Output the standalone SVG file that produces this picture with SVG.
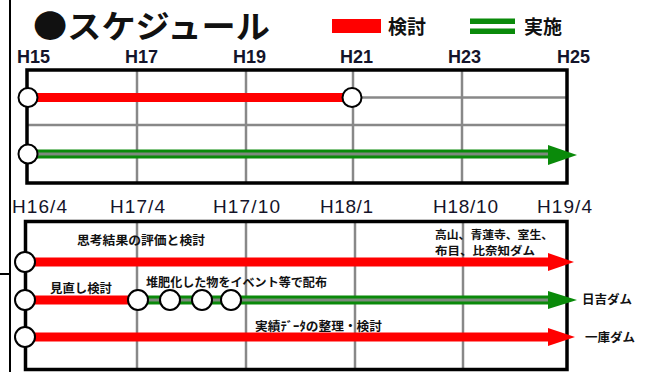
<svg xmlns="http://www.w3.org/2000/svg" width="646" height="372" viewBox="0 0 646 372">
<style>
.jp{font-family:"Noto Sans CJK JP","Noto Sans",sans-serif;font-weight:bold;fill:#111}
.lbl{font-size:12px}
.ax{font-family:"Liberation Sans",Arial,sans-serif;fill:#14142a}
.axt{font-size:18px;font-weight:bold}
.axb{font-size:19px}
.grid{stroke:#888;stroke-width:2.5;fill:none}
.box{stroke:#000;stroke-width:3.5;fill:none}
.red{stroke:#ff0000;stroke-width:9;fill:none}
.grn{stroke:#0a8a0a;stroke-width:9;fill:none}
.grnc{stroke:#7d8a7d;stroke-width:3;fill:none}
.node{fill:#fff;stroke:#000;stroke-width:2}
.rh{fill:#ff0000}
.gh{fill:#0a8a0a}
</style>
<rect width="646" height="372" fill="#fff"/>
<g id="frame">
<line x1="10" y1="0" x2="10" y2="372" stroke="#000" stroke-width="2"/>
<line x1="0" y1="274" x2="10" y2="274" stroke="#000" stroke-width="2"/>
</g>
<g id="title">
<text class="jp" x="33" y="38" font-size="32" textLength="237" lengthAdjust="spacingAndGlyphs">●スケジュール</text>
</g>
<g id="legend">
<rect x="332" y="19" width="49" height="14" fill="#ff0000"/>
<text class="jp" x="388" y="34" font-size="19">検討</text>
<rect x="470" y="18.5" width="45" height="5.5" fill="#0a8a0a"/>
<rect x="470" y="28.5" width="45" height="5.5" fill="#0a8a0a"/>
<text class="jp" x="524" y="34" font-size="19">実施</text>
</g>
<g id="top-axis" class="ax axt">
<text x="17" y="63">H15</text>
<text x="125" y="63">H17</text>
<text x="233" y="63">H19</text>
<text x="340" y="63">H21</text>
<text x="448" y="63">H23</text>
<text x="557" y="63">H25</text>
</g>
<g id="top-chart">
<line class="grid" x1="137" y1="70" x2="137" y2="183"/>
<line class="grid" x1="246" y1="70" x2="246" y2="183"/>
<line class="grid" x1="353" y1="70" x2="353" y2="183"/>
<line class="grid" x1="462" y1="70" x2="462" y2="183"/>
<line class="grid" x1="27" y1="97.5" x2="567" y2="97.5"/>
<line class="grid" x1="27" y1="125" x2="567" y2="125"/>
<rect class="box" x="27" y="70" width="540" height="113"/>
</g>
<g id="bottom-axis" class="ax axb">
<text x="12" y="213" textLength="55" lengthAdjust="spacing">H16/4</text>
<text x="110" y="213" textLength="55" lengthAdjust="spacing">H17/4</text>
<text x="213" y="213" textLength="67" lengthAdjust="spacing">H17/10</text>
<text x="320" y="213" textLength="53" lengthAdjust="spacing">H18/1</text>
<text x="433" y="213" textLength="65" lengthAdjust="spacing">H18/10</text>
<text x="537" y="213" textLength="55" lengthAdjust="spacing">H19/4</text>
</g>
<g id="bottom-chart">
<line class="grid" x1="137" y1="221" x2="137" y2="370"/>
<line class="grid" x1="246" y1="221" x2="246" y2="370"/>
<line class="grid" x1="355" y1="221" x2="355" y2="370"/>
<line class="grid" x1="463" y1="221" x2="463" y2="370"/>
<rect class="box" x="25.5" y="221.5" width="541.5" height="148"/>
</g>
<g id="connectors">
<line class="red" x1="28" y1="97.5" x2="352" y2="97.5"/>
<line class="grn" x1="28" y1="154" x2="550" y2="154"/>
<line class="grnc" x1="28" y1="154" x2="550" y2="154"/>
<polygon class="gh" points="548,145 577,155 548,165"/>
<line class="red" x1="25" y1="262" x2="550" y2="262"/>
<polygon class="rh" points="548,253 574,262 548,271"/>
<line class="red" x1="25" y1="300" x2="137" y2="300"/>
<line class="grn" x1="137" y1="300" x2="550" y2="300" stroke-width="10"/>
<line class="grnc" x1="137" y1="300" x2="550" y2="300" stroke-width="4"/>
<polygon class="gh" points="548,291 577,300 548,309"/>
<line class="red" x1="25" y1="337" x2="550" y2="337"/>
<polygon class="rh" points="548,328 575,337 548,346"/>
</g>
<g id="nodes">
<circle id="n-top1" class="node" cx="28" cy="97.5" r="9.5"/>
<circle id="n-top2" class="node" cx="352" cy="97.5" r="9.5"/>
<circle id="n-top3" class="node" cx="28" cy="154" r="9.5"/>
<circle id="n-b1" class="node" cx="25" cy="262" r="10"/>
<circle id="n-b2" class="node" cx="25" cy="300" r="10"/>
<circle id="n-b3" class="node" cx="25" cy="337" r="10"/>
<circle id="n-c1" class="node" cx="138" cy="300" r="10"/>
<circle id="n-c2" class="node" cx="170" cy="300" r="10"/>
<circle id="n-c3" class="node" cx="202" cy="300" r="10"/>
<circle id="n-c4" class="node" cx="231" cy="300" r="10"/>
</g>
<g id="labels" class="jp lbl">
<text x="77" y="245" textLength="128" lengthAdjust="spacingAndGlyphs">思考結果の評価と検討</text>
<text x="50" y="293" textLength="62" lengthAdjust="spacingAndGlyphs">見直し検討</text>
<text x="146" y="287" textLength="181" lengthAdjust="spacingAndGlyphs">堆肥化した物をイベント等で配布</text>
<text x="255" y="331" textLength="127" lengthAdjust="spacingAndGlyphs">実績ﾃﾞｰﾀの整理・検討</text>
<text x="435" y="239" font-size="11" textLength="118" lengthAdjust="spacingAndGlyphs">高山、青蓮寺、室生、</text>
<text x="435" y="255" font-size="11" textLength="100" lengthAdjust="spacingAndGlyphs">布目、比奈知ダム</text>
<text x="582" y="304" textLength="50" lengthAdjust="spacingAndGlyphs">日吉ダム</text>
<text x="585" y="342" textLength="50" lengthAdjust="spacingAndGlyphs">一庫ダム</text>
</g>
</svg>
